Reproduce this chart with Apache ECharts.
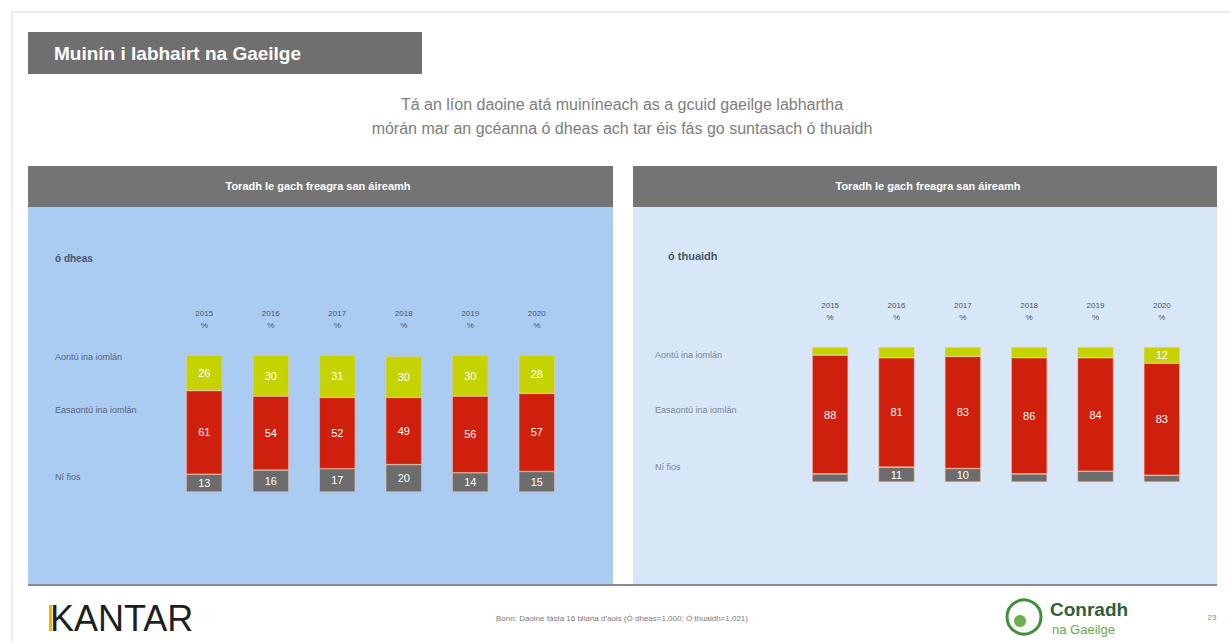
<!DOCTYPE html>
<html>
<head>
<meta charset="utf-8">
<script src="https://cdn.jsdelivr.net/npm/echarts@6/dist/echarts.min.js"></script>
<style>
html,body{margin:0;padding:0;background:#fff;}
#c{width:1231px;height:643px;}
</style>
</head>
<body>
<div id="c"></div>
<script>
// ---- data ----
const years = ['2015', '2016', '2017', '2018', '2019', '2020'];
const rowLabels = ['Aontú ina iomlán', 'Easaontú ina iomlán', 'Ní fios'];
const southAgree = [26, 30, 31, 30, 30, 28];
const southDisagree = [61, 54, 52, 49, 56, 57];
const southDontKnow = [13, 16, 17, 20, 14, 15];
const northAgree = [6, 8, 7, 8, 8, 12];
const northDisagree = [88, 81, 83, 86, 84, 83];
const northDontKnow = [6, 11, 10, 6, 8, 5];

const GREEN = '#c5d300', RED = '#cf200d', GREY = '#6c6c6c';
const FONT = 'Liberation Sans';

const chart = echarts.init(document.getElementById('c'), null, {renderer: 'svg'});

function xAx(gi) {
  return {
    type: 'category', gridIndex: gi, data: years, position: 'top',
    axisLine: {show: false}, axisTick: {show: false},
    axisLabel: {
      formatter: v => v + '\n%', fontSize: 8, lineHeight: 12, color: '#4a5465',
      fontFamily: FONT, margin: 24
    }
  };
}
function yAx(gi) {
  return {type: 'value', gridIndex: gi, min: 0, max: 100, show: false};
}
function bar(name, data, gi, color, minShow) {
  return {
    name: name, type: 'bar', xAxisIndex: gi, yAxisIndex: gi, stack: 's' + gi,
    data: data, barWidth: 36,
    itemStyle: {color: color, borderColor: 'rgba(255,200,150,0.8)', borderWidth: 0.6},
    label: {
      show: true, position: 'inside', color: '#fff', fontSize: 11, fontFamily: FONT,
      formatter: p => (p.value >= minShow ? p.value : '')
    }
  };
}

const option = {
  animation: false,
  grid: [
    {left: 171, top: 355, width: 399, height: 137},
    {left: 797, top: 347, width: 398, height: 135}
  ],
  xAxis: [xAx(0), xAx(1)],
  yAxis: [yAx(0), yAx(1)],
  series: [
    bar('Ní fios', southDontKnow, 0, GREY, 0),
    bar('Easaontú ina iomlán', southDisagree, 0, RED, 0),
    bar('Aontú ina iomlán', southAgree, 0, GREEN, 0),
    bar('Ní fios', northDontKnow, 1, GREY, 9),
    bar('Easaontú ina iomlán', northDisagree, 1, RED, 9),
    bar('Aontú ina iomlán', northAgree, 1, GREEN, 9)
  ],
  graphic: [
    {type: 'rect', z: -10, shape: {x: 12, y: 12, width: 1230, height: 640}, style: {fill: '#fff', stroke: '#d8d8d8', lineWidth: 1}},
    // title box
    {type: 'rect', z: -5, shape: {x: 28, y: 32, width: 394, height: 42}, style: {fill: '#6f6f6f'}},
    {type: 'text', z: 5, x: 54, y: 53, style: {text: 'Muinín i labhairt na Gaeilge', fontSize: 19, fontWeight: 'bold', fill: '#fff', fontFamily: FONT, textVerticalAlign: 'middle'}},
    // subtitle
    {type: 'text', x: 622, y: 104, style: {text: 'Tá an líon daoine atá muiníneach as a gcuid gaeilge labhartha', fontSize: 16, fill: '#7d7d7d', fontFamily: FONT, textAlign: 'center', textVerticalAlign: 'middle'}},
    {type: 'text', x: 622, y: 128, style: {text: 'mórán mar an gcéanna ó dheas ach tar éis fás go suntasach ó thuaidh', fontSize: 16, fill: '#7d7d7d', fontFamily: FONT, textAlign: 'center', textVerticalAlign: 'middle'}},
    // panels
    {type: 'rect', z: -5, shape: {x: 28, y: 166, width: 585, height: 41}, style: {fill: '#747474'}},
    {type: 'rect', z: -5, shape: {x: 633, y: 166, width: 584, height: 41}, style: {fill: '#747474'}},
    {type: 'rect', z: -5, shape: {x: 28, y: 207, width: 585, height: 377}, style: {fill: '#aacbf2'}},
    {type: 'rect', z: -5, shape: {x: 633, y: 207, width: 584, height: 377}, style: {fill: '#d8e7f8'}},
    {type: 'line', z: -4, shape: {x1: 28, y1: 585, x2: 1217, y2: 585}, style: {stroke: '#8a8a8a', lineWidth: 2}},
    {type: 'text', x: 318, y: 186, style: {text: 'Toradh le gach freagra san áireamh', fontSize: 11, fontWeight: 'bold', fill: '#fff', fontFamily: FONT, textAlign: 'center', textVerticalAlign: 'middle'}},
    {type: 'text', x: 928, y: 186, style: {text: 'Toradh le gach freagra san áireamh', fontSize: 11, fontWeight: 'bold', fill: '#fff', fontFamily: FONT, textAlign: 'center', textVerticalAlign: 'middle'}},
    {type: 'text', x: 55, y: 258, style: {text: 'ó dheas', fontSize: 10, fontWeight: 'bold', fill: '#4b5566', fontFamily: FONT, textVerticalAlign: 'middle'}},
    {type: 'text', x: 668, y: 256, style: {text: 'ó thuaidh', fontSize: 11, fontWeight: 'bold', fill: '#4b5566', fontFamily: FONT, textVerticalAlign: 'middle'}},
    // row labels
    {type: 'text', x: 55, y: 357, style: {text: rowLabels[0], fontSize: 9, fill: '#5a6578', fontFamily: FONT, textVerticalAlign: 'middle'}},
    {type: 'text', x: 55, y: 410, style: {text: rowLabels[1], fontSize: 9, fill: '#5a6578', fontFamily: FONT, textVerticalAlign: 'middle'}},
    {type: 'text', x: 55, y: 477, style: {text: rowLabels[2], fontSize: 9, fill: '#5a6578', fontFamily: FONT, textVerticalAlign: 'middle'}},
    {type: 'text', x: 655, y: 355, style: {text: rowLabels[0], fontSize: 9, fill: '#7a8595', fontFamily: FONT, textVerticalAlign: 'middle'}},
    {type: 'text', x: 655, y: 410, style: {text: rowLabels[1], fontSize: 9, fill: '#7a8595', fontFamily: FONT, textVerticalAlign: 'middle'}},
    {type: 'text', x: 655, y: 467, style: {text: rowLabels[2], fontSize: 9, fill: '#7a8595', fontFamily: FONT, textVerticalAlign: 'middle'}},
    // footer
    {type: 'rect', shape: {x: 49, y: 605, width: 3, height: 26}, style: {fill: '#f2b600'}},
    {type: 'text', x: 50, y: 618, style: {text: 'KANTAR', fontSize: 36, fill: '#1e1e1e', fontFamily: FONT, textVerticalAlign: 'middle'}},
    {type: 'text', x: 622, y: 618, style: {text: 'Bonn: Daoine fásta 16 bliana d\'aois (Ó dheas=1,000; Ó thuaidh=1,021)', fontSize: 8, fill: '#7a7a7a', fontFamily: FONT, textAlign: 'center', textVerticalAlign: 'middle'}},
    {type: 'circle', shape: {cx: 1024, cy: 617, r: 17}, style: {fill: 'none', stroke: '#3f8f3a', lineWidth: 3}},
    {type: 'circle', shape: {cx: 1020, cy: 621, r: 6}, style: {fill: '#6ab04c'}},
    {type: 'text', x: 1050, y: 609, style: {text: 'Conradh', fontSize: 19, fontWeight: 'bold', fill: '#2f5f3a', fontFamily: FONT, textVerticalAlign: 'middle'}},
    {type: 'text', x: 1052, y: 629, style: {text: 'na Gaeilge', fontSize: 13, fill: '#6aa84f', fontFamily: FONT, textVerticalAlign: 'middle'}},
    {type: 'text', x: 1212, y: 617, style: {text: '23', fontSize: 8, fill: '#888', fontFamily: FONT, textAlign: 'center', textVerticalAlign: 'middle'}}
  ]
};
chart.setOption(option);
</script>
</body>
</html>
